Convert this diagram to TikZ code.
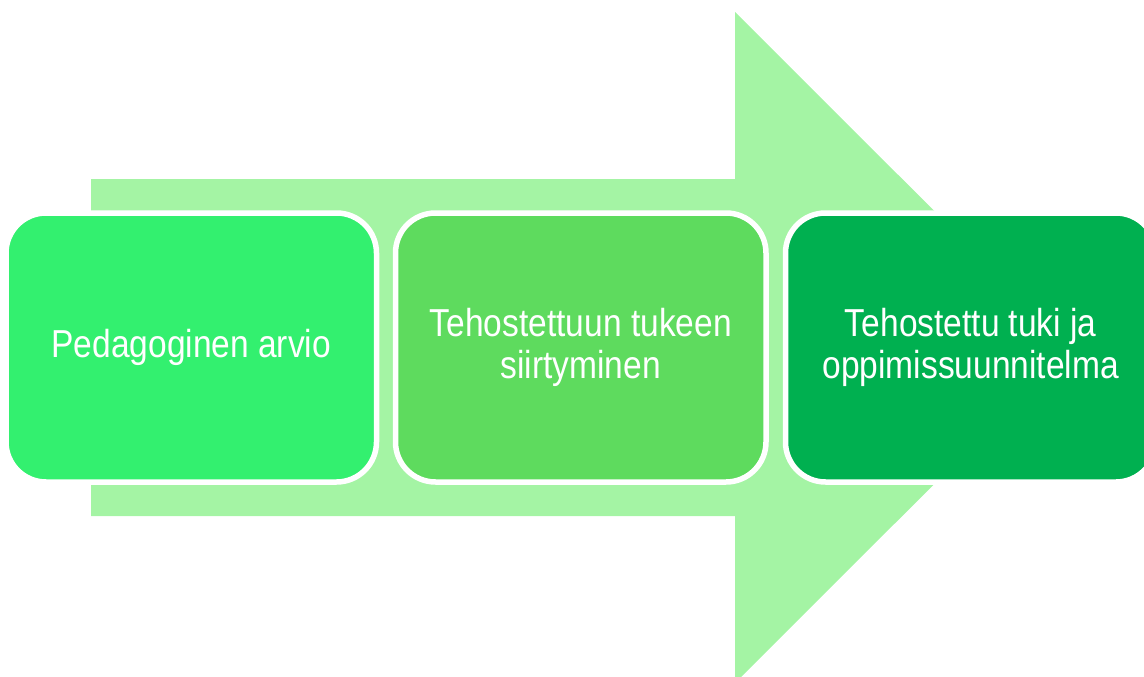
\documentclass[tikz,border=0pt]{standalone}
\usepackage{fontspec}
\setmainfont{Liberation Sans}[FakeStretch=0.86]
\definecolor{arrowc}{HTML}{A4F4A4}
\definecolor{cone}{HTML}{33F06F}
\definecolor{ctwo}{HTML}{5EDB5E}
\definecolor{cthree}{HTML}{00B050}
\tikzset{
  stepbox/.style={draw=white, line width=5.5pt, rounded corners=40pt,
    minimum width=370.5pt, minimum height=269pt, text=white, align=center,
    font=\fontsize{39}{42}\selectfont, inner sep=0pt}
}
\begin{document}
\begin{tikzpicture}[x=1pt,y=-1pt]
\useasboundingbox (0,0) rectangle (1144,677);
\clip (0,0) rectangle (1144,677);
\fill[arrowc] (91,179) -- (735,179) -- (735,12) -- (1071,347.5) -- (735,683) -- (735,516) -- (91,516) -- cycle;
\node[stepbox, fill=cone] (b1) at (191.25,347.5) {Pedagoginen arvio};
\node[stepbox, fill=ctwo] (b2) at (580.75,347.5) {Tehostettuun tukeen\\siirtyminen};
\node[stepbox, fill=cthree] (b3) at (970.75,347.5) {Tehostettu tuki ja\\oppimissuunnitelma};
\end{tikzpicture}
\end{document}
